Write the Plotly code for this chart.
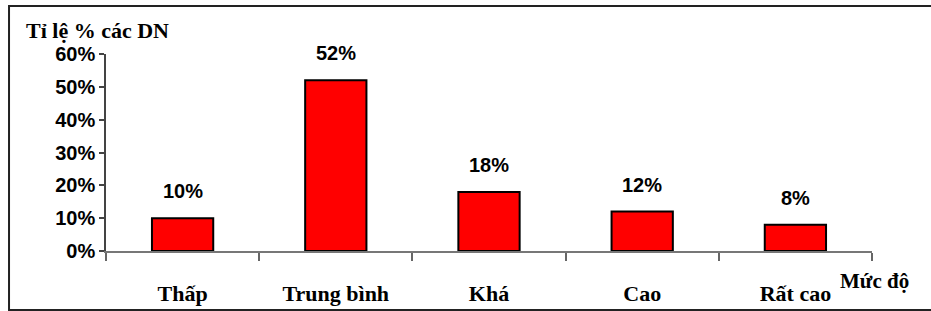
import plotly.graph_objects as go

categories = ["Thấp", "Trung bình", "Khá", "Cao", "Rất cao"]
values = [0.10, 0.52, 0.18, 0.12, 0.08]
y_ticks = [0, 0.1, 0.2, 0.3, 0.4, 0.5, 0.6]
y_title = "Tỉ lệ % các DN"
x_title = "Mức độ"

SANS = "Liberation Sans, Arial"
SERIF = "Liberation Serif, Times New Roman"

fig = go.Figure()
fig.add_trace(go.Bar(
    x=categories, y=values,
    marker=dict(color="#FF0000", line=dict(color="#000000", width=2)),
    width=0.4,
))

for c, v in zip(categories, values):
    fig.add_annotation(x=c, y=v, text=f"{round(v*100)}%", showarrow=False,
                       yanchor="bottom", yshift=14,
                       font=dict(family=SANS, size=20, color="black", weight="bold"))

fig.add_annotation(xref="paper", yref="paper", x=-0.107, y=1.12, xanchor="left", yanchor="middle",
                   text=y_title, showarrow=False,
                   font=dict(family=SERIF, size=22, color="black", weight="bold"))
fig.add_annotation(xref="paper", yref="paper", x=0.955, y=-0.08, xanchor="left", yanchor="top",
                   text=x_title, showarrow=False,
                   font=dict(family=SERIF, size=21, color="black", weight="bold"))

fig.add_shape(type="rect", xref="paper", yref="paper", x0=-0.1266, x1=1.2, y0=-0.299, y1=1.2437,
              line=dict(color="#222222", width=2))

fig.update_layout(
    width=931, height=311,
    margin=dict(l=106, r=59, t=54, b=60, autoexpand=False),
    paper_bgcolor="white", plot_bgcolor="white",
    showlegend=False,
    bargap=0.6,
    xaxis=dict(
        type="category", tickson="boundaries", ticks="outside", ticklen=8, tickcolor="#666666",
        tickwidth=1.5, automargin=False,
        showline=True, linecolor="#777777", linewidth=2, showgrid=False,
        ticklabelstandoff=22,
        tickfont=dict(family=SERIF, size=22, color="black", weight="bold"),
    ),
    yaxis=dict(
        range=[0, 0.6], tickvals=y_ticks, tickformat=".0%", ticks="outside", ticklen=5,
        tickcolor="#444444", tickwidth=1.5, automargin=False,
        showline=True, linecolor="#444444", linewidth=1.5, showgrid=False, zeroline=False,
        tickfont=dict(family=SANS, size=20, color="black", weight="bold"),
    ),
)

fig.write_html("out.html", config={"displayModeBar": False},
               post_script="document.body.style.margin='0';document.body.style.overflow='hidden';")
